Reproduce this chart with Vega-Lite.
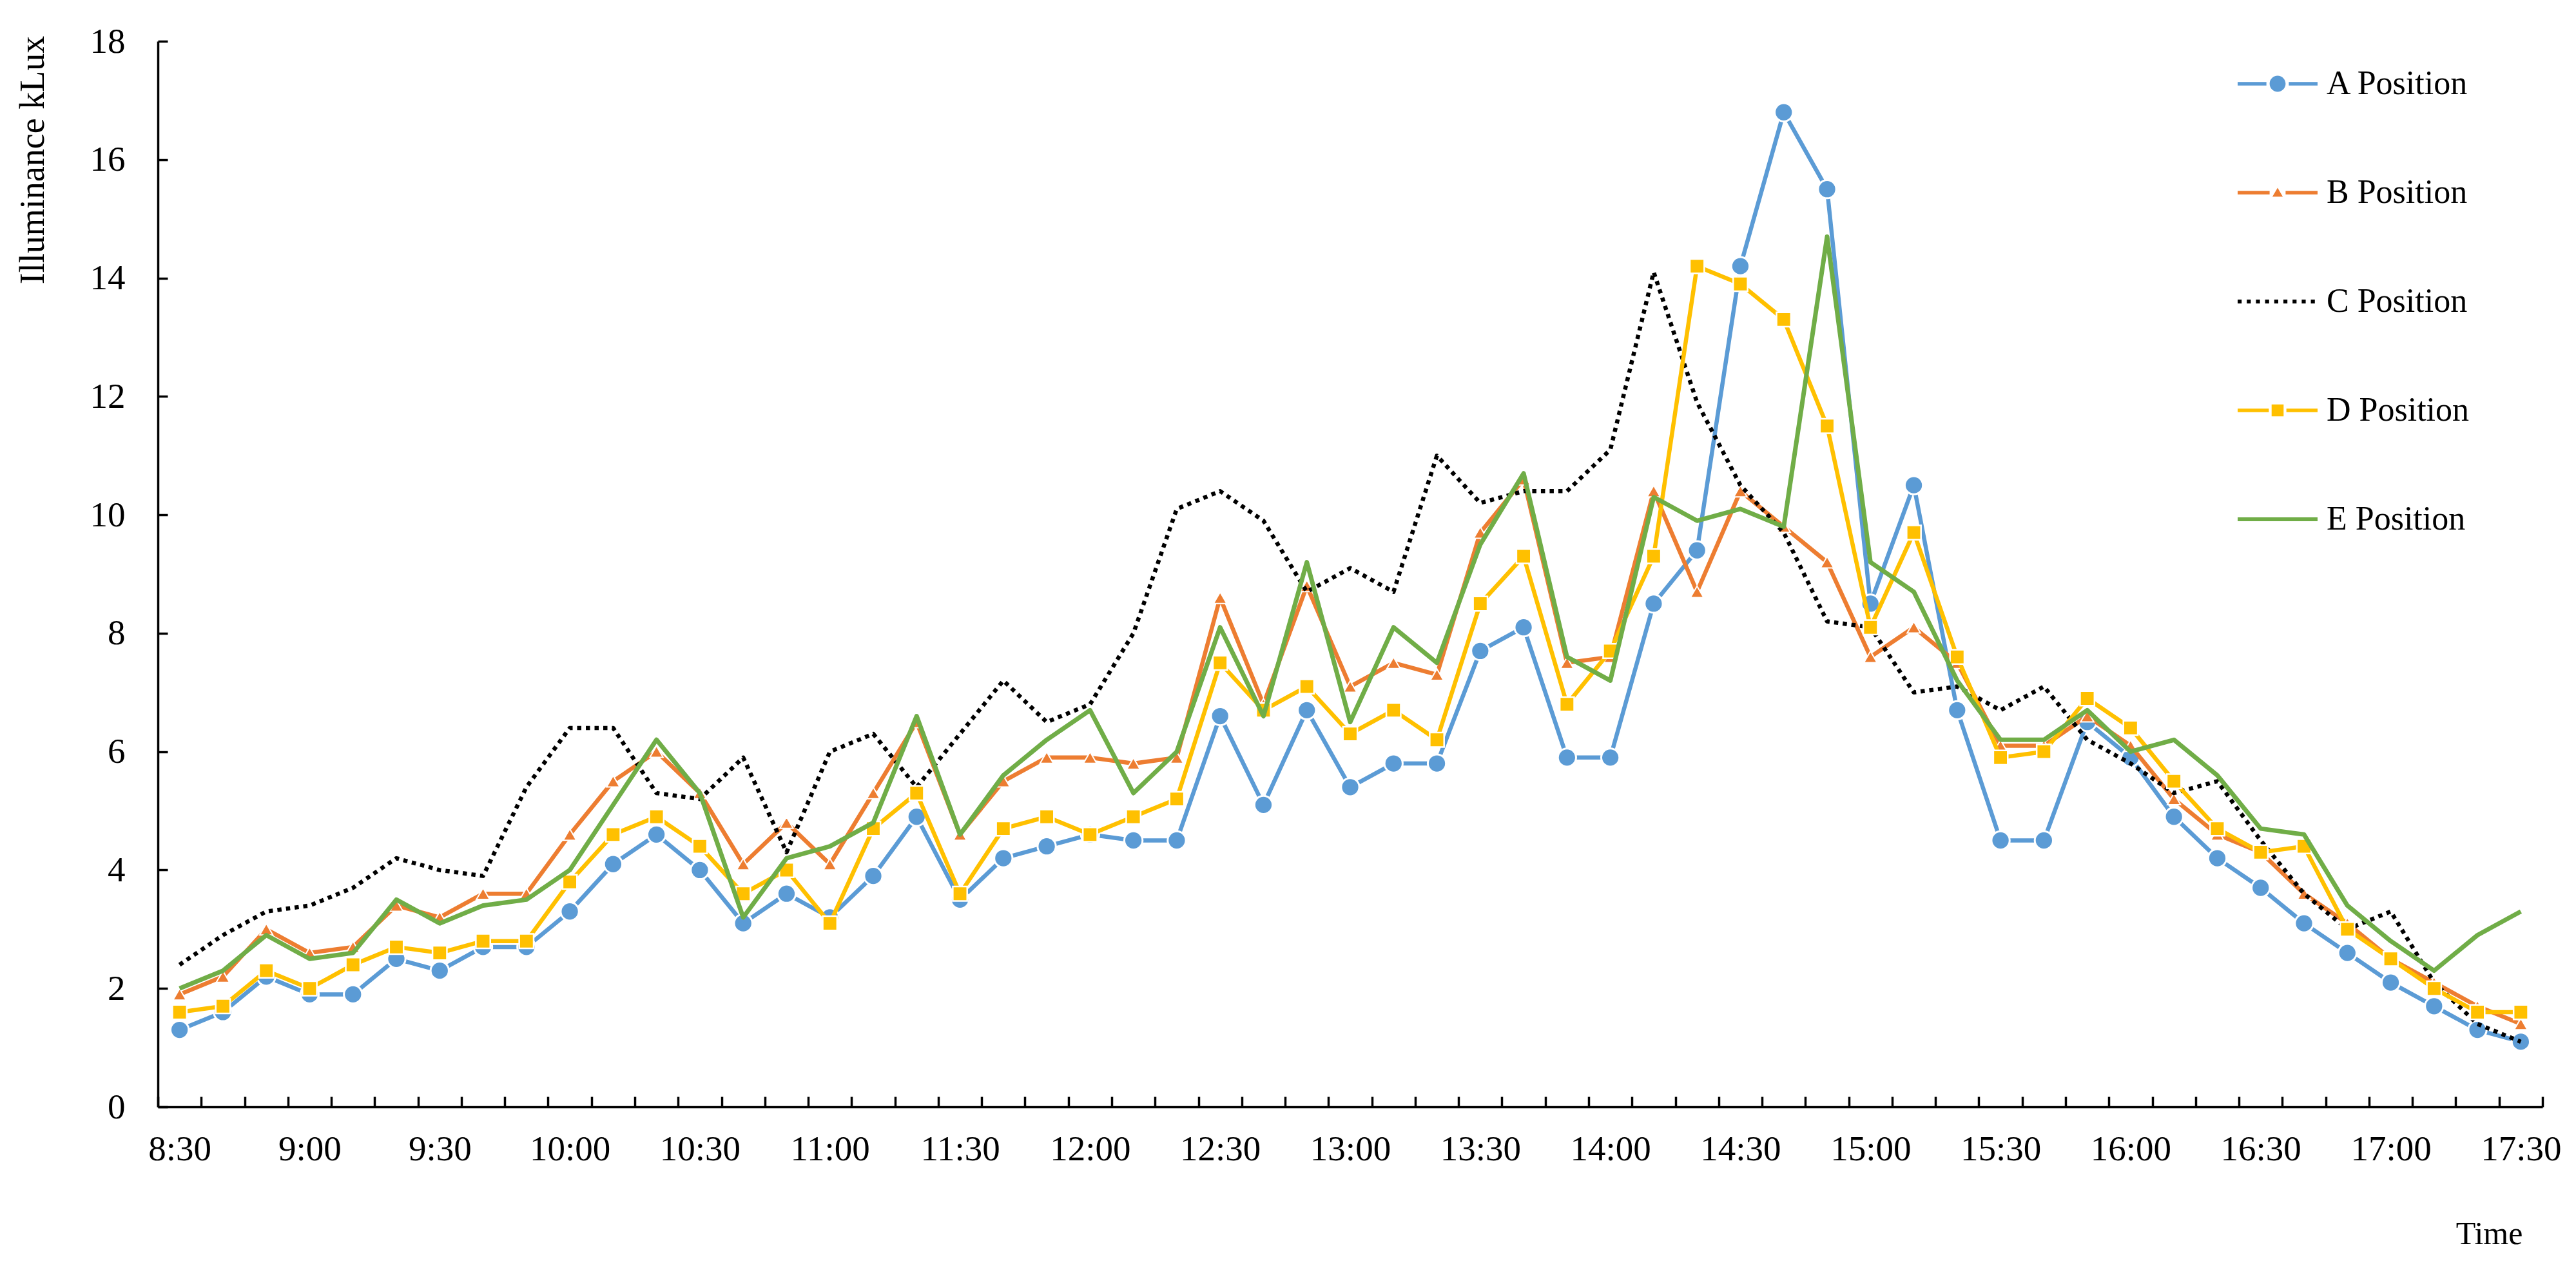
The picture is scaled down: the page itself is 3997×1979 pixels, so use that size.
{
  "$schema": "https://vega.github.io/schema/vega-lite/v6.json",
  "width": 3700,
  "height": 1654,
  "autosize": {"type": "none"},
  "padding": {"left": 245, "top": 64, "right": 52, "bottom": 261},
  "background": "white",
  "config": {"view": {"stroke": null}, "font": "Liberation Serif"},
  "data": {
    "values": [
      {"t": "8:30", "A Position": 1.3, "B Position": 1.9, "C Position": 2.4, "D Position": 1.6, "E Position": 2.0},
      {"t": "8:40", "A Position": 1.6, "B Position": 2.2, "C Position": 2.9, "D Position": 1.7, "E Position": 2.3},
      {"t": "8:50", "A Position": 2.2, "B Position": 3.0, "C Position": 3.3, "D Position": 2.3, "E Position": 2.9},
      {"t": "9:00", "A Position": 1.9, "B Position": 2.6, "C Position": 3.4, "D Position": 2.0, "E Position": 2.5},
      {"t": "9:10", "A Position": 1.9, "B Position": 2.7, "C Position": 3.7, "D Position": 2.4, "E Position": 2.6},
      {"t": "9:20", "A Position": 2.5, "B Position": 3.4, "C Position": 4.2, "D Position": 2.7, "E Position": 3.5},
      {"t": "9:30", "A Position": 2.3, "B Position": 3.2, "C Position": 4.0, "D Position": 2.6, "E Position": 3.1},
      {"t": "9:40", "A Position": 2.7, "B Position": 3.6, "C Position": 3.9, "D Position": 2.8, "E Position": 3.4},
      {"t": "9:50", "A Position": 2.7, "B Position": 3.6, "C Position": 5.4, "D Position": 2.8, "E Position": 3.5},
      {"t": "10:00", "A Position": 3.3, "B Position": 4.6, "C Position": 6.4, "D Position": 3.8, "E Position": 4.0},
      {"t": "10:10", "A Position": 4.1, "B Position": 5.5, "C Position": 6.4, "D Position": 4.6, "E Position": 5.1},
      {"t": "10:20", "A Position": 4.6, "B Position": 6.0, "C Position": 5.3, "D Position": 4.9, "E Position": 6.2},
      {"t": "10:30", "A Position": 4.0, "B Position": 5.3, "C Position": 5.2, "D Position": 4.4, "E Position": 5.3},
      {"t": "10:40", "A Position": 3.1, "B Position": 4.1, "C Position": 5.9, "D Position": 3.6, "E Position": 3.2},
      {"t": "10:50", "A Position": 3.6, "B Position": 4.8, "C Position": 4.3, "D Position": 4.0, "E Position": 4.2},
      {"t": "11:00", "A Position": 3.2, "B Position": 4.1, "C Position": 6.0, "D Position": 3.1, "E Position": 4.4},
      {"t": "11:10", "A Position": 3.9, "B Position": 5.3, "C Position": 6.3, "D Position": 4.7, "E Position": 4.8},
      {"t": "11:20", "A Position": 4.9, "B Position": 6.5, "C Position": 5.4, "D Position": 5.3, "E Position": 6.6},
      {"t": "11:30", "A Position": 3.5, "B Position": 4.6, "C Position": 6.3, "D Position": 3.6, "E Position": 4.6},
      {"t": "11:40", "A Position": 4.2, "B Position": 5.5, "C Position": 7.2, "D Position": 4.7, "E Position": 5.6},
      {"t": "11:50", "A Position": 4.4, "B Position": 5.9, "C Position": 6.5, "D Position": 4.9, "E Position": 6.2},
      {"t": "12:00", "A Position": 4.6, "B Position": 5.9, "C Position": 6.8, "D Position": 4.6, "E Position": 6.7},
      {"t": "12:10", "A Position": 4.5, "B Position": 5.8, "C Position": 8.0, "D Position": 4.9, "E Position": 5.3},
      {"t": "12:20", "A Position": 4.5, "B Position": 5.9, "C Position": 10.1, "D Position": 5.2, "E Position": 6.0},
      {"t": "12:30", "A Position": 6.6, "B Position": 8.6, "C Position": 10.4, "D Position": 7.5, "E Position": 8.1},
      {"t": "12:40", "A Position": 5.1, "B Position": 6.8, "C Position": 9.9, "D Position": 6.7, "E Position": 6.6},
      {"t": "12:50", "A Position": 6.7, "B Position": 8.8, "C Position": 8.7, "D Position": 7.1, "E Position": 9.2},
      {"t": "13:00", "A Position": 5.4, "B Position": 7.1, "C Position": 9.1, "D Position": 6.3, "E Position": 6.5},
      {"t": "13:10", "A Position": 5.8, "B Position": 7.5, "C Position": 8.7, "D Position": 6.7, "E Position": 8.1},
      {"t": "13:20", "A Position": 5.8, "B Position": 7.3, "C Position": 11.0, "D Position": 6.2, "E Position": 7.5},
      {"t": "13:30", "A Position": 7.7, "B Position": 9.7, "C Position": 10.2, "D Position": 8.5, "E Position": 9.5},
      {"t": "13:40", "A Position": 8.1, "B Position": 10.6, "C Position": 10.4, "D Position": 9.3, "E Position": 10.7},
      {"t": "13:50", "A Position": 5.9, "B Position": 7.5, "C Position": 10.4, "D Position": 6.8, "E Position": 7.6},
      {"t": "14:00", "A Position": 5.9, "B Position": 7.6, "C Position": 11.1, "D Position": 7.7, "E Position": 7.2},
      {"t": "14:10", "A Position": 8.5, "B Position": 10.4, "C Position": 14.1, "D Position": 9.3, "E Position": 10.3},
      {"t": "14:20", "A Position": 9.4, "B Position": 8.7, "C Position": 11.9, "D Position": 14.2, "E Position": 9.9},
      {"t": "14:30", "A Position": 14.2, "B Position": 10.4, "C Position": 10.5, "D Position": 13.9, "E Position": 10.1},
      {"t": "14:40", "A Position": 16.8, "B Position": 9.8, "C Position": 9.7, "D Position": 13.3, "E Position": 9.8},
      {"t": "14:50", "A Position": 15.5, "B Position": 9.2, "C Position": 8.2, "D Position": 11.5, "E Position": 14.7},
      {"t": "15:00", "A Position": 8.5, "B Position": 7.6, "C Position": 8.1, "D Position": 8.1, "E Position": 9.2},
      {"t": "15:10", "A Position": 10.5, "B Position": 8.1, "C Position": 7.0, "D Position": 9.7, "E Position": 8.7},
      {"t": "15:20", "A Position": 6.7, "B Position": 7.5, "C Position": 7.1, "D Position": 7.6, "E Position": 7.2},
      {"t": "15:30", "A Position": 4.5, "B Position": 6.1, "C Position": 6.7, "D Position": 5.9, "E Position": 6.2},
      {"t": "15:40", "A Position": 4.5, "B Position": 6.1, "C Position": 7.1, "D Position": 6.0, "E Position": 6.2},
      {"t": "15:50", "A Position": 6.5, "B Position": 6.6, "C Position": 6.2, "D Position": 6.9, "E Position": 6.7},
      {"t": "16:00", "A Position": 5.9, "B Position": 6.1, "C Position": 5.8, "D Position": 6.4, "E Position": 6.0},
      {"t": "16:10", "A Position": 4.9, "B Position": 5.2, "C Position": 5.3, "D Position": 5.5, "E Position": 6.2},
      {"t": "16:20", "A Position": 4.2, "B Position": 4.6, "C Position": 5.5, "D Position": 4.7, "E Position": 5.6},
      {"t": "16:30", "A Position": 3.7, "B Position": 4.3, "C Position": 4.5, "D Position": 4.3, "E Position": 4.7},
      {"t": "16:40", "A Position": 3.1, "B Position": 3.6, "C Position": 3.6, "D Position": 4.4, "E Position": 4.6},
      {"t": "16:50", "A Position": 2.6, "B Position": 3.1, "C Position": 3.0, "D Position": 3.0, "E Position": 3.4},
      {"t": "17:00", "A Position": 2.1, "B Position": 2.5, "C Position": 3.3, "D Position": 2.5, "E Position": 2.8},
      {"t": "17:10", "A Position": 1.7, "B Position": 2.1, "C Position": 2.1, "D Position": 2.0, "E Position": 2.3},
      {"t": "17:20", "A Position": 1.3, "B Position": 1.7, "C Position": 1.4, "D Position": 1.6, "E Position": 2.9},
      {"t": "17:30", "A Position": 1.1, "B Position": 1.4, "C Position": 1.1, "D Position": 1.6, "E Position": 3.3}
    ]
  },
  "transform": [
    {"fold": ["A Position", "B Position", "C Position", "D Position", "E Position"], "as": ["pos", "v"]}
  ],
  "encoding": {
    "x": {
      "field": "t",
      "type": "ordinal",
      "sort": null,
      "bandPosition": 0.5,
      "scale": {"type": "band", "paddingInner": 0, "paddingOuter": 0},
      "axis": {
        "title": "Time",
        "titleFont": "Liberation Serif",
        "titleFontSize": 50,
        "titleFontWeight": "normal",
        "titleColor": "black",
        "titleX": 3617,
        "titleY": 197,
        "titleAlign": "center",
        "titleBaseline": "middle",
        "labelExpr": "(isString(datum.value) && (slice(datum.value, -2) === '00' || slice(datum.value, -2) === '30')) ? datum.value : ''",
        "labelOverlap": false,
        "labelAngle": 0,
        "labelFont": "Liberation Serif",
        "labelFontSize": 55,
        "labelColor": "black",
        "labelPadding": 55,
        "labelBaseline": "top",
        "tickBand": "extent",
        "tickSize": -16,
        "tickWidth": 3.5,
        "tickColor": "black",
        "domainColor": "black",
        "domainWidth": 3.5,
        "grid": false
      }
    },
    "y": {
      "field": "v",
      "type": "quantitative",
      "scale": {"domain": [0, 18], "nice": false, "zero": true},
      "axis": {
        "title": "Illuminance kLux",
        "titleFont": "Liberation Serif",
        "titleFontSize": 54,
        "titleFontWeight": "normal",
        "titleColor": "black",
        "titleX": -194,
        "titleY": 184,
        "titleAngle": 270,
        "titleAlign": "center",
        "titleBaseline": "middle",
        "values": [0, 2, 4, 6, 8, 10, 12, 14, 16, 18],
        "labelFont": "Liberation Serif",
        "labelFontSize": 55,
        "labelColor": "black",
        "labelPadding": 66,
        "tickSize": -15,
        "tickWidth": 3.5,
        "tickColor": "black",
        "domainColor": "black",
        "domainWidth": 3.5,
        "grid": false
      }
    }
  },
  "layer": [
    {
      "transform": [{"filter": "datum.pos === 'A Position'"}],
      "mark": {"type": "line", "strokeWidth": 6.5, "strokeJoin": "round"},
      "encoding": {
        "color": {
          "field": "pos",
          "type": "nominal",
          "scale": {
            "domain": ["A Position", "B Position", "C Position", "D Position", "E Position"],
            "range": ["#5B9BD5", "#ED7D31", "#000000", "#FFC000", "#70AD47"]
          },
          "legend": {
            "orient": "none",
            "legendX": 3227,
            "legendY": 4,
            "title": null,
            "direction": "vertical",
            "padding": 0,
            "labelFont": "Liberation Serif",
            "labelFontSize": 52,
            "labelColor": "black",
            "labelOffset": 14,
            "labelLimit": 0,
            "labelBaseline": "middle",
            "symbolSize": 15376,
            "symbolStrokeWidth": 0,
            "rowPadding": 81,
            "encoding": {
              "symbols": {
                "shape": {"value": {"expr": "datum.value === 'A Position' ? 'M-1,-0.045H-0.28V0.045H-1Z M0.28,-0.045H1V0.045H0.28Z M0.2,0A0.2,0.2 0 1 1 -0.2,0A0.2,0.2 0 1 1 0.2,0Z' : datum.value === 'B Position' ? 'M-1,-0.045H-0.2V0.045H-1Z M0.2,-0.045H1V0.045H0.2Z M-0.13,0.1L0.13,0.1L0,-0.12Z' : datum.value === 'C Position' ? 'M-1,-0.05h0.1v0.1h-0.1z M-0.771,-0.05h0.1v0.1h-0.1z M-0.542,-0.05h0.1v0.1h-0.1z M-0.313,-0.05h0.1v0.1h-0.1z M-0.084,-0.05h0.1v0.1h-0.1z M0.145,-0.05h0.1v0.1h-0.1z M0.374,-0.05h0.1v0.1h-0.1z M0.603,-0.05h0.1v0.1h-0.1z M0.832,-0.05h0.1v0.1h-0.1z' : datum.value === 'D Position' ? 'M-1,-0.045H-0.22V0.045H-1Z M0.22,-0.045H1V0.045H0.22Z M-0.15,-0.15H0.15V0.15H-0.15Z' : 'M-1,-0.05H1V0.05H-1Z'"}},
                "fill": {"value": {"expr": "scale('color', datum.value)"}},
                "fillOpacity": {"value": 1},
                "stroke": {"value": "transparent"},
                "strokeWidth": {"value": 0},
                "opacity": {"value": 1}
              }
            }
          }
        }
      }
    },
    {
      "transform": [{"filter": "datum.pos === 'A Position'"}],
      "mark": {"type": "point", "shape": "circle", "filled": true, "size": 800, "stroke": "white", "strokeWidth": 3, "opacity": 1},
      "encoding": {"color": {"field": "pos", "type": "nominal", "legend": null}}
    },
    {
      "transform": [{"filter": "datum.pos === 'B Position'"}],
      "mark": {"type": "line", "strokeWidth": 6.5, "strokeJoin": "round"},
      "encoding": {"color": {"field": "pos", "type": "nominal", "legend": null}}
    },
    {
      "transform": [{"filter": "datum.pos === 'B Position'"}],
      "mark": {"type": "point", "shape": "triangle-up", "filled": true, "size": 420, "stroke": "white", "strokeWidth": 2, "opacity": 1},
      "encoding": {"color": {"field": "pos", "type": "nominal", "legend": null}}
    },
    {
      "transform": [{"filter": "datum.pos === 'C Position'"}],
      "mark": {"type": "line", "strokeWidth": 6.5, "strokeDash": [6.5, 7], "strokeCap": "butt", "strokeJoin": "round"},
      "encoding": {"color": {"field": "pos", "type": "nominal", "legend": null}}
    },
    {
      "transform": [{"filter": "datum.pos === 'D Position'"}],
      "mark": {"type": "line", "strokeWidth": 6.5, "strokeJoin": "round"},
      "encoding": {"color": {"field": "pos", "type": "nominal", "legend": null}}
    },
    {
      "transform": [{"filter": "datum.pos === 'D Position'"}],
      "mark": {"type": "point", "shape": "square", "filled": true, "size": 500, "stroke": "white", "strokeWidth": 2.5, "opacity": 1},
      "encoding": {"color": {"field": "pos", "type": "nominal", "legend": null}}
    },
    {
      "transform": [{"filter": "datum.pos === 'E Position'"}],
      "mark": {"type": "line", "strokeWidth": 7, "strokeJoin": "round"},
      "encoding": {"color": {"field": "pos", "type": "nominal", "legend": null}}
    }
  ]
}
